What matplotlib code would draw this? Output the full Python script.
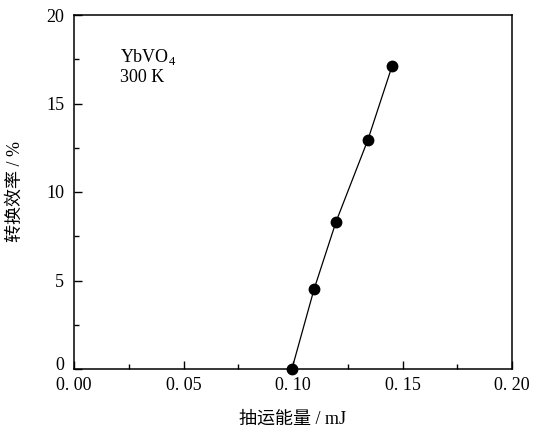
import numpy as np
import matplotlib.pyplot as plt
import matplotlib.transforms as mtransforms
from matplotlib.ticker import MultipleLocator

plt.rcParams['font.family'] = ['Liberation Serif', 'Noto Sans CJK SC']
plt.rcParams['mathtext.fontset'] = 'custom'
plt.rcParams['mathtext.rm'] = 'Liberation Serif'

# Data
pump_energy = [0.0995, 0.1096, 0.1196, 0.1342, 0.1452]
efficiency = [0.0, 4.5, 8.3, 12.95, 17.1]

x_ticks = [0.00, 0.05, 0.10, 0.15, 0.20]
x_tick_labels = ["0. 00", "0. 05", "0. 10", "0. 15", "0. 20"]
y_ticks = [0, 5, 10, 15, 20]

fig = plt.figure(figsize=(5.35, 4.32), dpi=100)
ax = fig.add_axes([74 / 535, 1 - 369 / 432, 438 / 535, 354 / 432])

ax.plot(pump_energy, efficiency, '-', color='black', linewidth=0.9,
        marker='o', markersize=7.5, markerfacecolor='black', clip_on=False, zorder=3)

ax.set_xlim(0, 0.20)
ax.set_ylim(0, 20)
ax.set_xticks(x_ticks)
ax.set_xticklabels(x_tick_labels)
ax.set_yticks(y_ticks)
ax.xaxis.set_minor_locator(MultipleLocator(0.025))
ax.yaxis.set_minor_locator(MultipleLocator(2.5))
ax.tick_params(which='both', direction='in', top=False, right=False, labelsize=13)
ax.tick_params(which='major', length=6, width=1)
ax.tick_params(which='minor', length=3.5, width=1)
ax.tick_params(axis='y', pad=7)
ax.tick_params(axis='x', pad=6)
for s in ax.spines.values():
    s.set_linewidth(1.1)

# nudge the y "0" label up a little, as in the original
lbl0 = ax.get_yticklabels()[0]
lbl0.set_transform(lbl0.get_transform() + mtransforms.ScaledTranslation(0, 4 / 72, fig.dpi_scale_trans))

ax.text(0.105, 0.88, "YbVO$_4$", transform=ax.transAxes, fontsize=13, va='center')
ax.text(0.105, 0.823, "300 K", transform=ax.transAxes, fontsize=13, va='center')

ax.set_xlabel("抽运能量 / mJ", fontsize=13, labelpad=12)
ax.set_ylabel("转换效率 / %", fontsize=13, labelpad=16)

fig.savefig("out.png", dpi=100)
